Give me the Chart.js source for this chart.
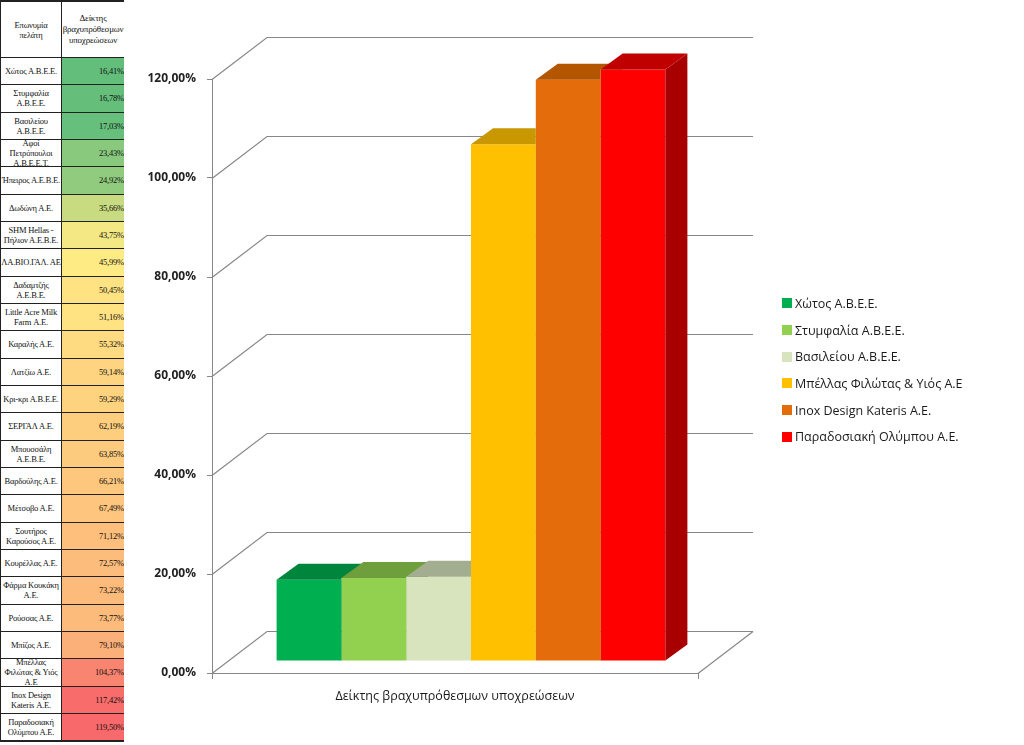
<!DOCTYPE html>
<html lang="el">
<head>
  <meta charset="UTF-8">
  <title>Δείκτης βραχυπρόθεσμων υποχρεώσεων</title>
  <script src="https://cdn.jsdelivr.net/npm/chart.js"></script>
  <style>
    body { margin: 0; background: #fff; width: 1024px; height: 745px; overflow: hidden; position: relative; }
    #sheet {
      position: absolute; left: 0; top: 0; width: 124px; height: 742px;
      display: grid; grid-template-columns: 60px 62px; column-gap: 1px; row-gap: 1px;
      grid-template-rows: 55px repeat(25, 26.33px);
      background: #222; padding: 2px 1px 0 1px; box-sizing: border-box;
      font-family: "Liberation Serif", serif; font-size: 8.5px; letter-spacing: -0.2px; color: #111;
    }
    #sheet div { background: #fff; display: flex; align-items: center; justify-content: center;
      text-align: center; line-height: 10px; overflow: hidden; white-space: normal; }
    #sheet div.val { justify-content: flex-end; white-space: nowrap; }
    #sheet div.head1 { padding: 0 12px; }
    #sheet div.head2 { overflow-wrap: anywhere; line-height: 11px; font-size: 9px; }
    #wrap { position: absolute; left: 125px; top: 0; }
    #legend { position: absolute; left: 782px; top: 290px; font-family: "Open Sans", sans-serif;
      font-size: 12.5px; color: #1a1a1a; }
    #legend .item { height: 26.7px; display: flex; align-items: center; white-space: nowrap; }
    #legend .box { width: 10px; height: 10px; margin-right: 3px; }
  </style>
</head>
<body>
  <div id="sheet"></div>
  <div id="wrap"><canvas id="chart" width="899" height="745"></canvas></div>
  <div id="legend"></div>

<script>
// spreadsheet beside the chart
const clientNames = [
  'Χώτος Α.Β.Ε.Ε.', 'Στυμφαλία Α.Β.Ε.Ε.', 'Βασιλείου Α.Β.Ε.Ε.', 'Αφοί Πετρόπουλοι Α.Β.Ε.Ε.Τ.',
  'Ήπειρος Α.Ε.Β.Ε.', 'Δωδώνη Α.Ε.', 'SHM Hellas - Πήλιον Α.Ε.Β.Ε.', 'ΛΑ.ΒΙΟ.ΓΑΛ. ΑΕ',
  'Δαδαμτζής Α.Ε.Β.Ε.', 'Little Acre Milk Farm Α.Ε.', 'Καραλής Α.Ε.', 'Λατζίω Α.Ε.',
  'Κρι-κρι Α.Β.Ε.Ε.', 'ΣΕΡΓΑΛ Α.Ε.', 'Μπουσσάλη Α.Ε.Β.Ε.', 'Βαρδούλης Α.Ε.', 'Μέτσοβο Α.Ε.',
  'Σουτήρος Καρούσος Α.Ε.', 'Κουρέλλας Α.Ε.', 'Φάρμα Κουκάκη Α.Ε.', 'Ρούσσας Α.Ε.',
  'Μπίζος Α.Ε.', 'Μπέλλας Φιλώτας & Υιός Α.Ε', 'Inox Design Kateris Α.Ε.', 'Παραδοσιακή Ολύμπου Α.Ε.'
];
const clientValues = [
  16.41, 16.78, 17.03, 23.43, 24.92, 35.66, 43.75, 45.99, 50.45, 51.16, 55.32, 59.14,
  59.29, 62.19, 63.85, 66.21, 67.49, 71.12, 72.57, 73.22, 73.77, 79.10, 104.37, 117.42, 119.50
];

// the chart itself
const categoryLabels = ['Δείκτης βραχυπρόθεσμων υποχρεώσεων'];
const seriesNames = ['Χώτος Α.Β.Ε.Ε.', 'Στυμφαλία Α.Β.Ε.Ε.', 'Βασιλείου Α.Β.Ε.Ε.',
  'Μπέλλας Φιλώτας  & Υιός  Α.Ε', 'Inox Design Kateris Α.Ε.', 'Παραδοσιακή Ολύμπου Α.Ε.'];
const seriesValues = [16.41, 16.78, 17.03, 104.37, 117.42, 119.50];
const yTicks = [0, 20, 40, 60, 80, 100, 120];

const frontColors = ['#00B050', '#92D050', '#D7E4BD', '#FFC000', '#E46C0A', '#FF0000'];
const topColors   = ['#00853C', '#6F9E3C', '#A3AD8F', '#C99700', '#B45500', '#C00000'];
const sideColors  = ['#007A36', '#64903A', '#959E82', '#B88A00', '#A04B00', '#A80000'];

const fmt = v => v.toFixed(2).replace('.', ',') + '%';

// --- table ---
function scaleColor(v) {
  // green -> yellow -> red colour scale like the spreadsheet
  const lo = [99, 190, 123], mid = [255, 235, 132], hi = [248, 105, 107];
  const min = Math.min(...clientValues), max = Math.max(...clientValues), m = 46;
  let a, b, t;
  if (v <= m) { a = lo; b = mid; t = (v - min) / (m - min); }
  else { a = mid; b = hi; t = (v - m) / (max - m); }
  const c = a.map((x, i) => Math.round(x + (b[i] - x) * t));
  return `rgb(${c[0]},${c[1]},${c[2]})`;
}
const sheet = document.getElementById('sheet');
sheet.innerHTML = '<div class="head1">Επωνυμία πελάτη</div><div class="head2">Δείκτης βραχυπρόθεσμων υποχρεώσεων</div>';
clientNames.forEach((name, i) => {
  const n = document.createElement('div');
  n.textContent = name;
  const v = document.createElement('div');
  v.className = 'val';
  v.style.background = scaleColor(clientValues[i]);
  v.textContent = fmt(clientValues[i]);
  sheet.appendChild(n);
  sheet.appendChild(v);
});

// --- legend ---
const legend = document.getElementById('legend');
seriesNames.forEach((name, i) => {
  const row = document.createElement('div');
  row.className = 'item';
  row.innerHTML = `<span class="box" style="background:${frontColors[i]}"></span>`;
  row.appendChild(document.createTextNode(name));
  legend.appendChild(row);
});

// --- fake 3D: walls, floor and bar tops/sides ---
const WALL_DX = 55, WALL_DY = 42;
const BAR_DX = 16, BAR_DY = 12;
const DEPTH_DX = 22, DEPTH_DY = 16;
const GRID = '#878787';

const threeD = {
  id: 'threeD',
  beforeDatasetsDraw(chart) {
    const { ctx, chartArea: a, scales: { y } } = chart;
    ctx.save();
    ctx.strokeStyle = GRID;
    ctx.lineWidth = 1.2;
    y.ticks.forEach(t => {
      const py = Math.round(y.getPixelForValue(t.value)) + 0.5;
      ctx.beginPath();
      ctx.moveTo(a.left, py);
      ctx.lineTo(a.left + WALL_DX, py - WALL_DY);
      ctx.lineTo(a.right + WALL_DX, py - WALL_DY);
      ctx.stroke();
    });
    // right edge of the floor
    ctx.beginPath();
    ctx.moveTo(a.right, a.bottom + 0.5);
    ctx.lineTo(a.right + WALL_DX, a.bottom + 0.5 - WALL_DY);
    ctx.stroke();
    ctx.restore();
    // bars stand a bit behind the front edge of the floor
    ctx.save();
    ctx.translate(BAR_DX, -BAR_DY);
  },
  afterDatasetsDraw(chart) {
    const { ctx } = chart;
    const bars = chart.data.datasets.map((d, i) => chart.getDatasetMeta(i).data[0]);
    const rect = el => [el.x - el.width / 2, el.y, el.width, el.base - el.y];
    bars.forEach((el, i) => {
      const [l, t, w] = rect(el);
      const r = l + w, b = el.base;
      ctx.save();
      // keep later (front) bars on top
      ctx.beginPath();
      ctx.rect(-2000, -2000, 6000, 6000);
      bars.slice(i + 1).forEach(o => ctx.rect(...rect(o)));
      ctx.clip('evenodd');
      ctx.fillStyle = sideColors[i];
      ctx.beginPath();
      ctx.moveTo(r, b);
      ctx.lineTo(r + DEPTH_DX, b - DEPTH_DY);
      ctx.lineTo(r + DEPTH_DX, t - DEPTH_DY);
      ctx.lineTo(r, t);
      ctx.closePath();
      ctx.fill();
      ctx.fillStyle = topColors[i];
      ctx.beginPath();
      ctx.moveTo(l, t);
      ctx.lineTo(l + DEPTH_DX, t - DEPTH_DY);
      ctx.lineTo(r + DEPTH_DX, t - DEPTH_DY);
      ctx.lineTo(r, t);
      ctx.closePath();
      ctx.fill();
      ctx.restore();
    });
    ctx.restore();
  }
};

Chart.defaults.font.family = "'Open Sans', sans-serif";

new Chart(document.getElementById('chart'), {
  type: 'bar',
  data: {
    labels: categoryLabels,
    datasets: seriesNames.map((name, i) => ({
      label: name,
      data: [seriesValues[i]],
      backgroundColor: frontColors[i],
      borderWidth: 0,
      clip: false,
      barPercentage: 1,
      categoryPercentage: 0.8
    }))
  },
  options: {
    responsive: false,
    animation: false,
    events: [],
    layout: { padding: { left: 0, right: 326, top: 79, bottom: 0 } },
    plugins: { legend: { display: false }, tooltip: { enabled: false } },
    scales: {
      x: {
        grid: { offset: true, drawOnChartArea: false, tickLength: 6, color: GRID },
        border: { color: GRID },
        ticks: { color: '#1a1a1a', padding: 10, font: { size: 12.5 } },
        afterFit(scale) { scale.height = 72; }
      },
      y: {
        min: 0,
        max: 120,
        afterBuildTicks(scale) { scale.ticks = yTicks.map(v => ({ value: v })); },
        grid: { drawOnChartArea: false, tickLength: 5, color: GRID },
        border: { color: GRID },
        ticks: { color: '#222', padding: 11, font: { size: 12, weight: 'bold' }, callback: v => fmt(v) },
        afterFit(scale) { scale.width = 87; }
      }
    }
  },
  plugins: [threeD]
});
</script>
</body>
</html>
